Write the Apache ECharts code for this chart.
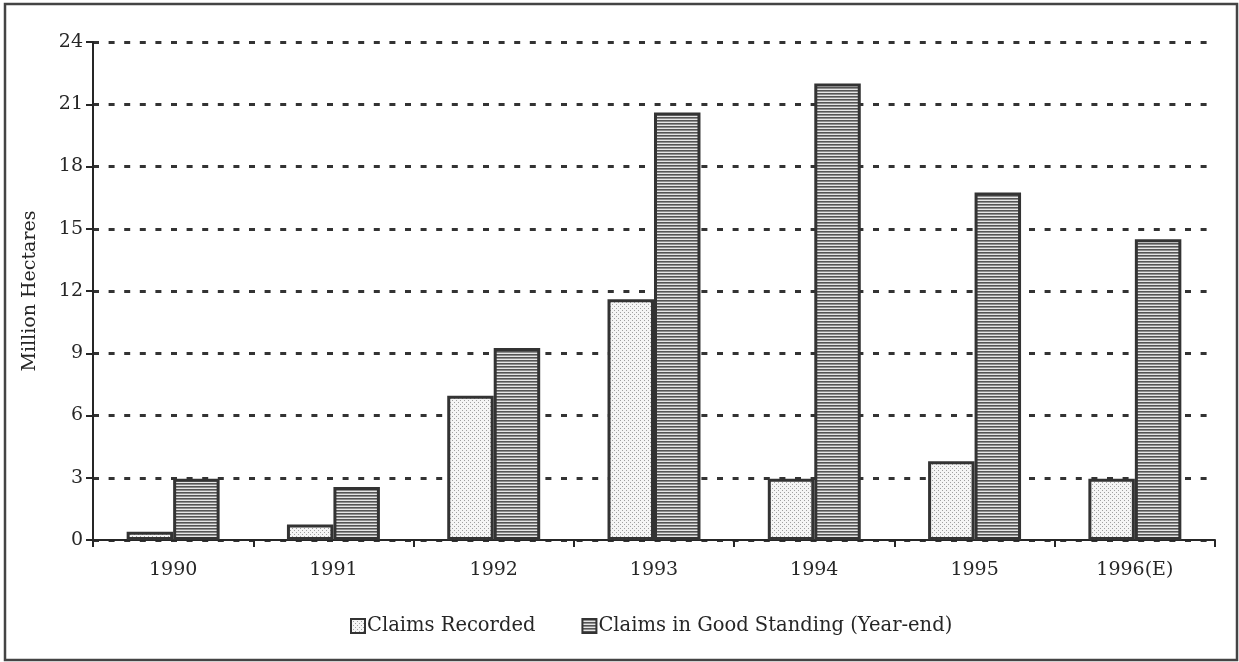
<!DOCTYPE html>
<html>
<head>
<meta charset="utf-8">
<script src="https://cdn.jsdelivr.net/npm/echarts@6/dist/echarts.min.js"></script>
<style>
  html, body { margin: 0; padding: 0; background: #fff; }
  #chart { width: 1239px; height: 662px; }
</style>
</head>
<body>
<div id="chart"></div>
<script>
// Claims data, million hectares
const years = ['1990', '1991', '1992', '1993', '1994', '1995', '1996(E)'];
const claimsRecorded = [0.4, 0.75, 6.95, 11.6, 2.95, 3.8, 2.95];
const claimsGoodStanding = [2.95, 2.55, 9.25, 20.6, 22.0, 16.75, 14.5];
const yTicks = [0, 3, 6, 9, 12, 15, 18, 21, 24];

const FONT = 'DejaVu Serif';
const INK = '#262626';

// Stippled fill: pale background with fine gray dots
function dotPattern() {
  const c = document.createElement('canvas');
  c.width = 4; c.height = 4;
  const g = c.getContext('2d');
  g.fillStyle = '#f5f5f5';
  g.fillRect(0, 0, 4, 4);
  g.fillStyle = '#a0a0a0';
  g.fillRect(0, 0, 1, 1);
  g.fillRect(2, 2, 1, 1);
  return c;
}

// Horizontal hatching: alternating dark and light rules
function hatchPattern() {
  const c = document.createElement('canvas');
  c.width = 3; c.height = 3;
  const g = c.getContext('2d');
  g.fillStyle = '#e6e6e6';
  g.fillRect(0, 0, 3, 3);
  g.fillStyle = '#555';
  g.fillRect(0, 0, 3, 1.6);
  return c;
}

const dots = { image: dotPattern(), repeat: 'repeat' };
const hatch = { image: hatchPattern(), repeat: 'repeat' };

const chart = echarts.init(document.getElementById('chart'), null, { renderer: 'canvas' });

chart.setOption({
  backgroundColor: '#fff',
  animation: false,
  textStyle: { fontFamily: FONT, color: INK },
  graphic: [{
    type: 'rect',
    shape: { x: 5, y: 4, width: 1232, height: 656 },
    style: { fill: 'none', stroke: '#444', lineWidth: 2.5 },
    silent: true
  }],
  grid: { left: 93, right: 24, top: 42, bottom: 122, containLabel: false },
  legend: {
    bottom: 21,
    left: 345,
    icon: 'rect',
    itemWidth: 14,
    itemHeight: 14,
    itemGap: 46,
    textStyle: { fontFamily: FONT, fontSize: 19.5, color: INK, padding: [0, 0, 0, -3] },
    data: ['Claims Recorded', 'Claims in Good Standing (Year-end)']
  },
  xAxis: {
    type: 'category',
    data: years,
    axisLine: { lineStyle: { color: INK, width: 2 } },
    axisTick: { show: true, length: 7, lineStyle: { color: INK, width: 2 } },
    axisLabel: { fontFamily: FONT, fontSize: 19, color: INK, margin: 21 }
  },
  yAxis: {
    type: 'value',
    min: 0,
    max: 24,
    interval: 3,
    name: 'Million Hectares',
    nameLocation: 'middle',
    nameGap: 53,
    nameTextStyle: { fontFamily: FONT, fontSize: 19, color: INK },
    axisLine: { show: true, lineStyle: { color: INK, width: 2 } },
    axisTick: { show: true, length: 7, lineStyle: { color: INK, width: 2 } },
    axisLabel: {
      fontFamily: FONT, fontSize: 19, color: INK, margin: 10,
      formatter: v => (yTicks.includes(v) ? String(v) : '')
    },
    splitLine: {
      show: true,
      lineStyle: { color: '#333', width: 3, type: [6, 9.6] }
    }
  },
  series: [
    {
      name: 'Claims Recorded',
      type: 'bar',
      data: claimsRecorded,
      barWidth: '29%',
      barGap: '0%',
      itemStyle: { color: dots, borderColor: '#333', borderWidth: 3 },
      z: 3
    },
    {
      name: 'Claims in Good Standing (Year-end)',
      type: 'bar',
      data: claimsGoodStanding,
      barWidth: '29%',
      barGap: '0%',
      itemStyle: { color: hatch, borderColor: '#333', borderWidth: 3 },
      z: 3
    }
  ]
});
</script>
</body>
</html>
